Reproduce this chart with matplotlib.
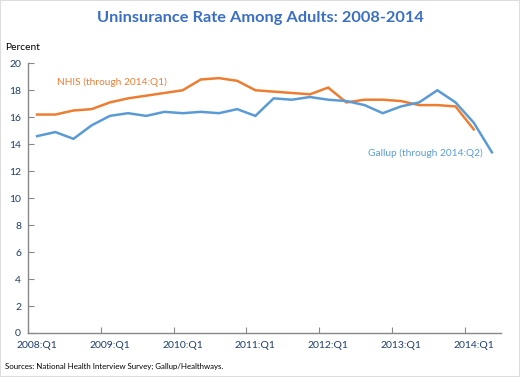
import matplotlib
matplotlib.use('Agg')
from matplotlib import pyplot
import matplotlib.patches as patches

plt = pyplot
plt.rcParams['font.family'] = ['Lato', 'DejaVu Sans']

quarters = ['2008:Q1', '2008:Q2', '2008:Q3', '2008:Q4',
            '2009:Q1', '2009:Q2', '2009:Q3', '2009:Q4',
            '2010:Q1', '2010:Q2', '2010:Q3', '2010:Q4',
            '2011:Q1', '2011:Q2', '2011:Q3', '2011:Q4',
            '2012:Q1', '2012:Q2', '2012:Q3', '2012:Q4',
            '2013:Q1', '2013:Q2', '2013:Q3', '2013:Q4',
            '2014:Q1', '2014:Q2']
nhis = [16.2, 16.2, 16.5, 16.6, 17.1, 17.4, 17.6, 17.8, 18.0, 18.8, 18.9, 18.7,
        18.0, 17.9, 17.8, 17.7, 18.2, 17.1, 17.3, 17.3, 17.2, 16.9, 16.9, 16.8,
        15.1]
gallup = [14.6, 14.9, 14.4, 15.4, 16.1, 16.3, 16.1, 16.4, 16.3, 16.4, 16.3, 16.6,
          16.1, 17.4, 17.3, 17.5, 17.3, 17.2, 16.9, 16.3, 16.8, 17.1, 18.0, 17.1,
          15.6, 13.4]
tick_labels = ['2008:Q1', '2009:Q1', '2010:Q1', '2011:Q1', '2012:Q1', '2013:Q1', '2014:Q1']

orange = '#ED7D31'
blue = '#5B9BD5'
dark = '#1F3D6B'

fig = plt.figure(figsize=(5.2, 3.77), dpi=100)
ax = fig.add_axes([28 / 520, 44 / 377, 473 / 520, (333 - 63.3) / 377])

ax.plot(range(len(nhis)), nhis, color=orange, lw=1.8, solid_joinstyle='miter')
ax.plot(range(len(gallup)), gallup, color=blue, lw=1.8, solid_joinstyle='miter')

ax.set_xlim(-0.5, len(quarters) - 0.5)
ax.set_ylim(0, 20)
ax.set_yticks(range(0, 21, 2))
ax.set_xticks([quarters.index(q) - 0.5 for q in tick_labels])
ax.set_xticklabels([])
ax.set_xticks([quarters.index(q) for q in tick_labels], minor=True)
ax.set_xticklabels(tick_labels, minor=True)
ax.tick_params(axis='x', which='major', direction='in', length=4, color='#888888')
ax.tick_params(axis='x', which='minor', length=0, pad=6, labelsize=7.5, labelcolor=dark)
ax.tick_params(axis='y', direction='in', length=4, color='#888888', labelsize=7.5,
               labelcolor=dark, pad=5)
for s in ['top', 'right']:
    ax.spines[s].set_visible(False)
for s in ['left', 'bottom']:
    ax.spines[s].set_color('#888888')
    ax.spines[s].set_linewidth(1)

ax.text(1.1, 18.6, 'NHIS (through 2014:Q1)', color=orange, fontsize=7.3, va='center')
ax.text(18.2, 13.3, 'Gallup (through 2014:Q2)', color=blue, fontsize=7.3, va='center')

fig.text(0.5, 1 - 18 / 377, 'Uninsurance Rate Among Adults: 2008-2014', color='#3A6FC4',
         fontsize=11.8, fontweight='bold', ha='center', va='center')
fig.text(5 / 520, 1 - 47 / 377, 'Percent', fontsize=7.4, color='black', va='center')
fig.text(5 / 520, 1 - 366 / 377, 'Sources: National Health Interview Survey; Gallup/Healthways.',
         fontsize=5.7, color='black', va='center')
fig.patches.append(patches.Rectangle((0, 0), 1, 1, transform=fig.transFigure, fill=False,
                                     edgecolor='#DDDDDD', lw=1.5))

fig.savefig('out.png')
